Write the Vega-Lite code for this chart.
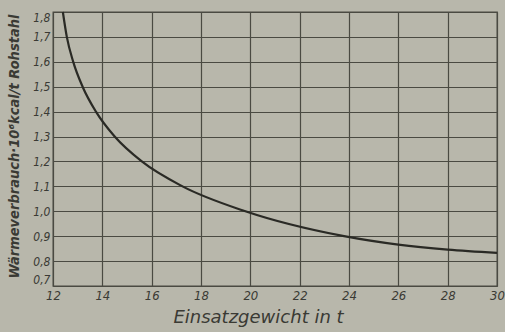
{
  "$schema": "https://vega.github.io/schema/vega-lite/v6.json",
  "width": 444,
  "height": 274,
  "autosize": {"type": "none"},
  "padding": {"left": 53, "top": 12, "right": 8, "bottom": 46},
  "background": "#b8b7ab",
  "config": {
    "view": {"stroke": "#4a4a42", "strokeWidth": 1.3},
    "font": "DejaVu Sans Condensed"
  },
  "data": {
    "values": [
      {"x": 12.4, "y": 1.8},
      {"x": 12.56, "y": 1.7},
      {"x": 12.82, "y": 1.6},
      {"x": 13.2, "y": 1.5},
      {"x": 13.74, "y": 1.4},
      {"x": 14.5, "y": 1.3},
      {"x": 15.6, "y": 1.2},
      {"x": 17.25, "y": 1.1},
      {"x": 19.8, "y": 1.0},
      {"x": 23.8, "y": 0.9},
      {"x": 26, "y": 0.866},
      {"x": 28, "y": 0.846},
      {"x": 30, "y": 0.833}
    ]
  },
  "mark": {"type": "line", "color": "#2a2a25", "strokeWidth": 2.2, "interpolate": "monotone"},
  "encoding": {
    "x": {
      "field": "x", "type": "quantitative",
      "scale": {"domain": [12, 30], "nice": false},
      "axis": {
        "values": [12, 14, 16, 18, 20, 22, 24, 26, 28, 30],
        "title": "Einsatzgewicht in t",
        "titleFont": "DejaVu Sans",
        "titleFontStyle": "italic",
        "titleFontWeight": "normal",
        "titleFontSize": 18,
        "titleColor": "#3a3a34",
        "titleX": 205,
        "titleAlign": "center",
        "titlePadding": 6,
        "labelFontStyle": "italic",
        "labelFontSize": 13,
        "labelColor": "#3a3a34",
        "labelPadding": 3,
        "labelFlush": false,
        "ticks": false,
        "domain": false,
        "gridColor": "#4a4a42",
        "gridOpacity": 1,
        "gridWidth": 1.2
      }
    },
    "y": {
      "field": "y", "type": "quantitative",
      "scale": {"domain": [0.7, 1.8], "nice": false},
      "axis": {
        "values": [0.7, 0.8, 0.9, 1.0, 1.1, 1.2, 1.3, 1.4, 1.5, 1.6, 1.7, 1.8],
        "labelExpr": "replace(format(datum.value, '.1f'), '.', ',')",
        "title": "Wärmeverbrauch·10⁶kcal/t Rohstahl",
        "titleFontStyle": "italic",
        "titleFontWeight": "bold",
        "titleFontSize": 14.5,
        "titleColor": "#3a3a34",
        "titleX": -39,
        "titleY": 134,
        "titleAngle": -90,
        "titleAlign": "center",
        "titleBaseline": "middle",
        "labelFontStyle": "italic",
        "labelFontSize": 12,
        "labelColor": "#3a3a34",
        "labelPadding": 3,
        "labelFlush": true,
        "ticks": false,
        "domain": false,
        "gridColor": "#4a4a42",
        "gridOpacity": 1,
        "gridWidth": 1.2
      }
    }
  }
}
